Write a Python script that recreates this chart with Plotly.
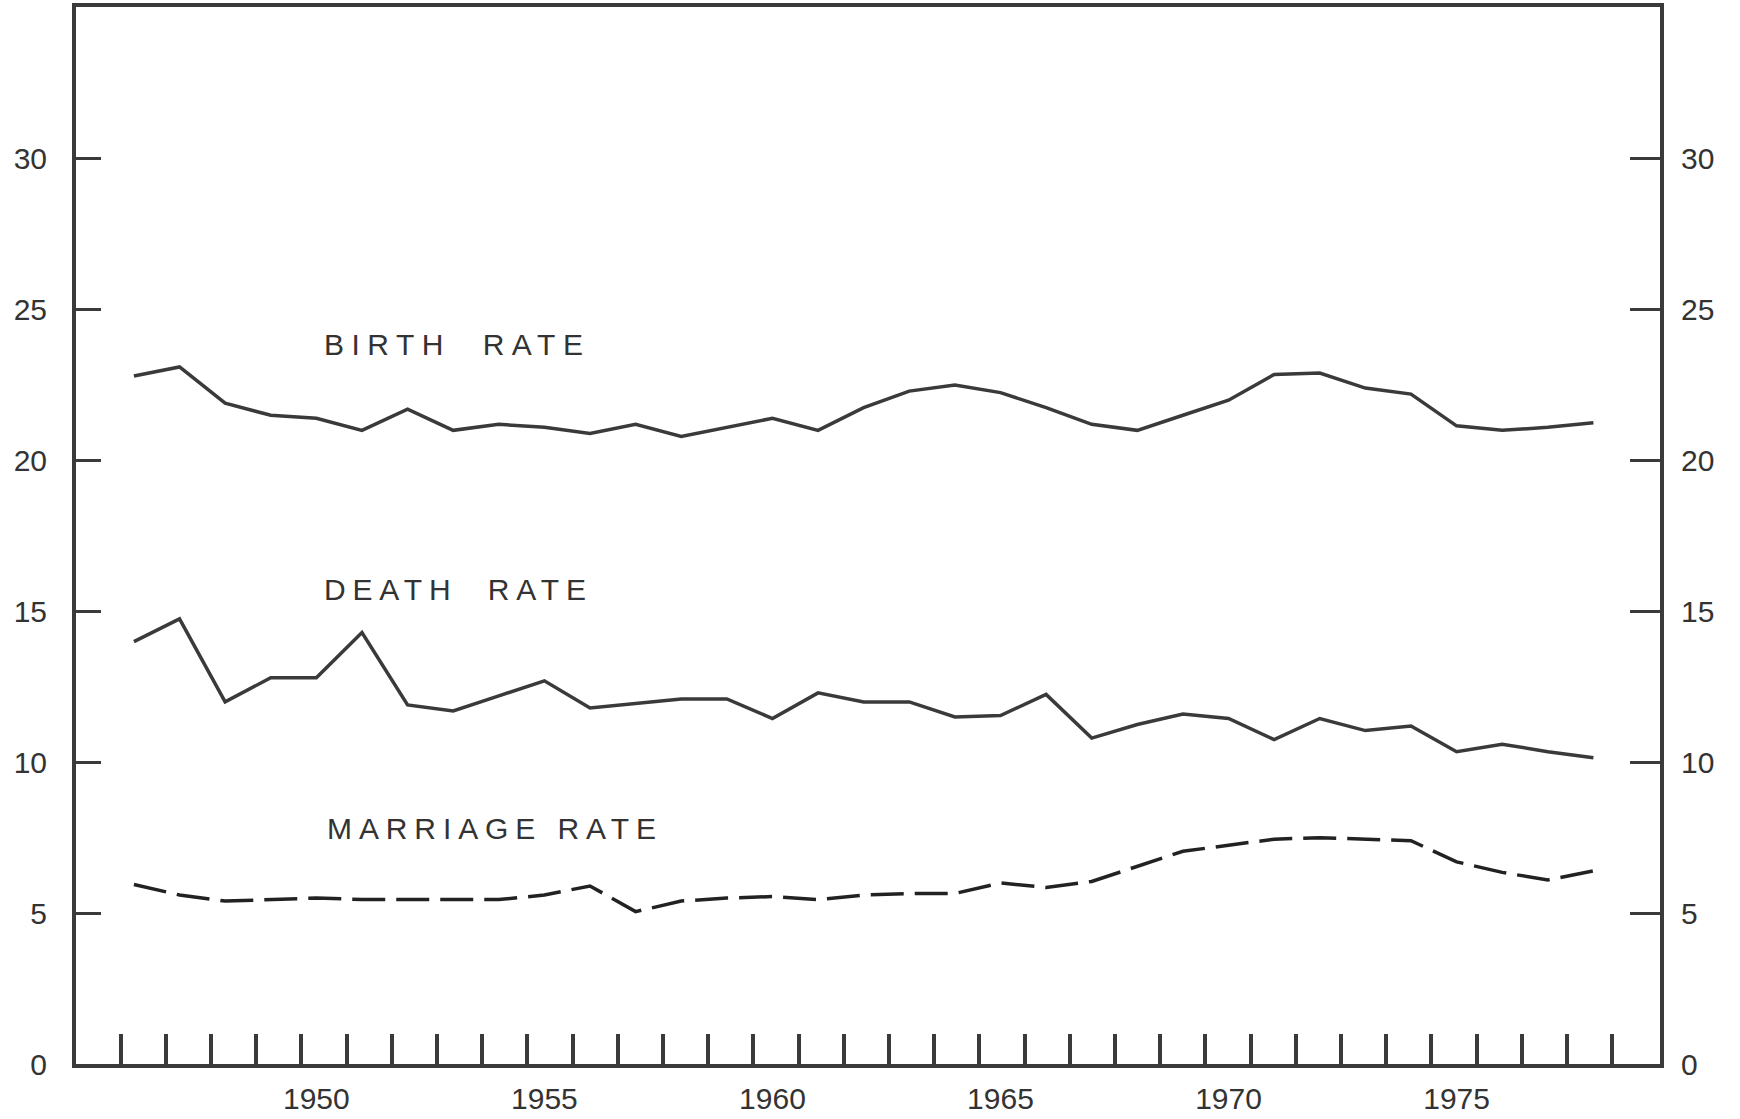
import plotly.graph_objects as go

years = list(range(1946, 1979))

birth_rate = [22.8, 23.1, 21.9, 21.5, 21.4, 21.0, 21.7, 21.0, 21.2, 21.1, 20.9,
              21.2, 20.8, 21.1, 21.4, 21.0, 21.75, 22.3, 22.5, 22.25, 21.75, 21.2,
              21.0, 21.5, 22.0, 22.85, 22.9, 22.4, 22.2, 21.15, 21.0, 21.1, 21.25]

death_rate = [14.0, 14.75, 12.0, 12.8, 12.8, 14.3, 11.9, 11.7, 12.2, 12.7, 11.8,
              11.95, 12.1, 12.1, 11.45, 12.3, 12.0, 12.0, 11.5, 11.55, 12.25, 10.8,
              11.25, 11.6, 11.45, 10.75, 11.45, 11.05, 11.2, 10.35, 10.6, 10.35, 10.15]

marriage_rate = [5.95, 5.6, 5.4, 5.45, 5.5, 5.45, 5.45, 5.45, 5.45, 5.6, 5.9,
                 5.05, 5.4, 5.5, 5.55, 5.45, 5.6, 5.65, 5.65, 6.0, 5.85, 6.05,
                 6.55, 7.05, 7.25, 7.45, 7.5, 7.45, 7.4, 6.7, 6.35, 6.1, 6.4]

x_label_years = [1950, 1955, 1960, 1965, 1970, 1975]
y_tick_values = [0, 5, 10, 15, 20, 25, 30]

series_labels = ["BIRTH  RATE", "DEATH  RATE", "MARRIAGE RATE"]

INK = "#3a3a3a"
FONT = "Liberation Sans Narrow, Liberation Sans, Arial, sans-serif"

# minor tick marks between years (hand-drawn axis ticks)
minor_ticks = [round(1945.71 + 0.991 * k, 3) for k in range(34)]

fig = go.Figure()
fig.add_trace(go.Scatter(x=years, y=birth_rate, mode="lines", name="Birth rate",
                         line=dict(color=INK, width=3.5)))
fig.add_trace(go.Scatter(x=years, y=death_rate, mode="lines", name="Death rate",
                         line=dict(color=INK, width=3.5)))
fig.add_trace(go.Scatter(x=years, y=marriage_rate, mode="lines", name="Marriage rate",
                         line=dict(color="#222222", width=3.5, dash="33px,11px")))
fig.add_trace(go.Scatter(x=[], y=[], yaxis="y2", showlegend=False, hoverinfo="skip"))

fig.update_layout(
    width=1740, height=1119,
    margin=dict(l=76, r=80, t=7, b=55, autoexpand=False),
    paper_bgcolor="white", plot_bgcolor="white",
    showlegend=False,
    font=dict(family=FONT, color="#333333"),
    xaxis=dict(
        range=[1944.73, 1979.46], automargin=False,
        tickmode="array", tickvals=x_label_years, ticktext=[str(v) for v in x_label_years],
        ticks="inside", ticklen=0, tickwidth=0,
        minor=dict(tickmode="array", tickvals=minor_ticks, ticks="inside",
                   ticklen=30, tickwidth=4, tickcolor=INK, showgrid=False),
        showgrid=False, zeroline=False,
        showline=True, mirror=True, linewidth=4, linecolor=INK,
        tickfont=dict(size=30, family=FONT, color="#333333"),
        ticklabelstandoff=5,
    ),
    yaxis=dict(
        range=[0, 35.03], automargin=False,
        tickmode="array", tickvals=y_tick_values,
        ticks="inside", ticklen=25, tickwidth=3, tickcolor=INK,
        showgrid=False, zeroline=False,
        showline=True, mirror=True, linewidth=4, linecolor=INK,
        tickfont=dict(size=30, family=FONT, color="#333333"),
        ticklabelstandoff=19,
    ),
    yaxis2=dict(
        range=[0, 35.03], overlaying="y", side="right", automargin=False,
        tickmode="array", tickvals=y_tick_values,
        ticks="inside", ticklen=30, tickwidth=3, tickcolor=INK,
        showgrid=False, zeroline=False, showline=False,
        tickfont=dict(size=30, family=FONT, color="#333333"),
        ticklabelstandoff=20,
    ),
)

label_pos = [(1950.12, 23.83), (1950.12, 15.71), (1950.2, 7.79)]
label_spacing = [7.5, 6.8, 6.9]
for txt, (lx, ly), sp in zip(series_labels, label_pos, label_spacing):
    fig.add_annotation(x=lx, y=ly, xref="x", yref="y", xanchor="left", yanchor="middle",
                       text='<span style="letter-spacing:%spx">' % sp + txt + '</span>',
                       showarrow=False,
                       font=dict(size=30, family="Liberation Sans, Arial, sans-serif",
                                 color="#333333"))

fig.write_html("out.html", config={"displayModeBar": False},
               post_script="document.body.style.margin='0';")
